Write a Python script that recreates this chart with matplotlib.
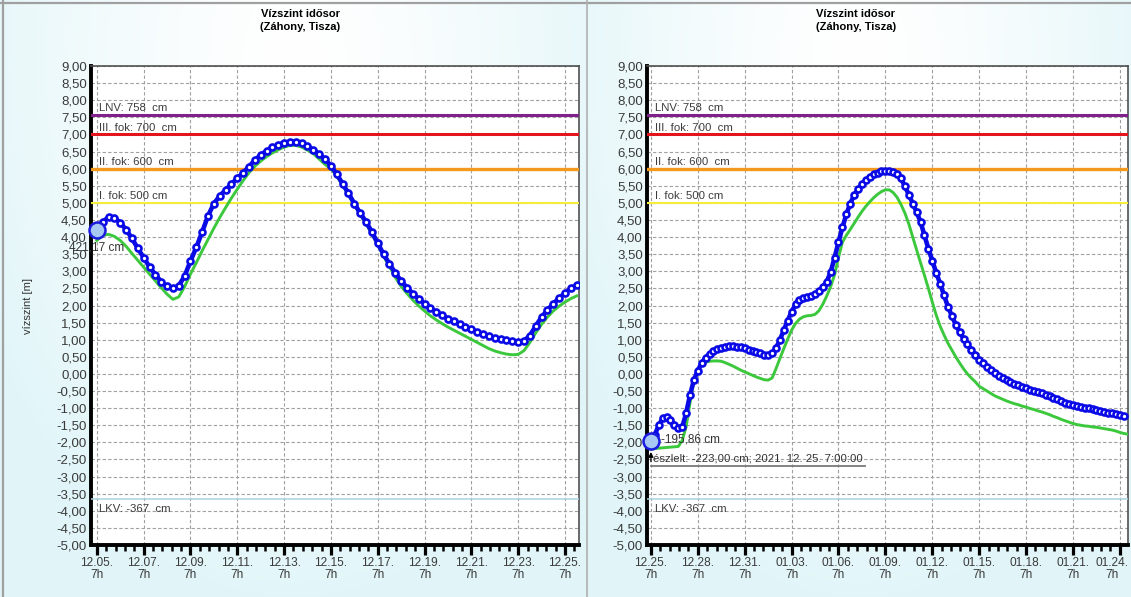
import numpy as np
import matplotlib.pyplot as plt
from matplotlib.ticker import MultipleLocator, FuncFormatter
from matplotlib.transforms import Bbox, ScaledTranslation
from matplotlib.lines import Line2D

plt.rcParams['font.family'] = ['Liberation Sans', 'DejaVu Sans']

# water level in metres, one value every 6 hours, first panel starts 12.05. 7h
forecast_left = [
    4.21, 4.45, 4.58, 4.57, 4.42, 4.22, 3.96, 3.67, 3.40, 3.13, 2.90, 2.70,
    2.56, 2.50, 2.58, 2.86, 3.30, 3.70, 4.15, 4.62, 4.98, 5.20, 5.38, 5.55,
    5.72, 5.88, 6.06, 6.25, 6.40, 6.52, 6.62, 6.70, 6.76, 6.79, 6.78, 6.74,
    6.65, 6.55, 6.42, 6.28, 6.08, 5.84, 5.56, 5.28, 4.98, 4.70, 4.45, 4.15,
    3.82, 3.50, 3.22, 2.95, 2.72, 2.52, 2.35, 2.20, 2.05, 1.92, 1.82, 1.72,
    1.62, 1.54, 1.45, 1.37, 1.30, 1.23, 1.16, 1.10, 1.06, 1.02, 0.98, 0.95,
    0.94, 0.97, 1.12, 1.40, 1.66, 1.87, 2.05, 2.22, 2.36, 2.50, 2.60,
]
measured_left = [
    3.90, 4.05, 4.08, 4.02, 3.90, 3.73, 3.52, 3.32, 3.12, 2.92, 2.72, 2.52,
    2.33, 2.18, 2.25, 2.55, 2.92, 3.25, 3.60, 3.93, 4.26, 4.57, 4.86, 5.14,
    5.40, 5.65, 5.88, 6.07, 6.22, 6.35, 6.46, 6.55, 6.63, 6.68, 6.68, 6.63,
    6.54, 6.44, 6.28, 6.12, 6.00, 5.78, 5.51, 5.23, 4.94, 4.65, 4.39, 4.09,
    3.77, 3.44, 3.14, 2.82, 2.56, 2.35, 2.16, 1.99, 1.84, 1.70, 1.58, 1.47,
    1.37, 1.28, 1.19, 1.10, 1.01, 0.92, 0.83, 0.74, 0.67, 0.62, 0.58, 0.56,
    0.57, 0.68, 0.92, 1.20, 1.45, 1.66, 1.84, 1.98, 2.10, 2.20, 2.28,
]

# second panel starts 12.25. 7h
forecast_right = [
    -1.95, -1.78, -1.50, -1.30, -1.25, -1.36, -1.48, -1.59, -1.56, -1.15, -0.62, -0.18,
    0.10, 0.32, 0.48, 0.59, 0.67, 0.73, 0.76, 0.79, 0.81, 0.81, 0.80, 0.78,
    0.75, 0.71, 0.67, 0.63, 0.60, 0.56, 0.55, 0.60, 0.76, 0.99, 1.28, 1.56,
    1.82, 2.03, 2.15, 2.21, 2.25, 2.28, 2.33, 2.42, 2.55, 2.70, 2.98, 3.40,
    3.85, 4.28, 4.66, 4.98, 5.22, 5.40, 5.54, 5.66, 5.76, 5.83, 5.88, 5.92,
    5.94, 5.94, 5.91, 5.84, 5.72, 5.48, 5.24, 4.98, 4.73, 4.44, 4.05, 3.66,
    3.31, 2.96, 2.64, 2.30, 1.97, 1.70, 1.44, 1.22, 1.03, 0.87, 0.70, 0.55,
    0.42, 0.31, 0.21, 0.11, 0.03, -0.05, -0.11, -0.17, -0.24, -0.29, -0.33, -0.38,
    -0.42, -0.47, -0.50, -0.54, -0.57, -0.61, -0.65, -0.70, -0.74, -0.79, -0.84, -0.87,
    -0.90, -0.93, -0.96, -0.99, -1.01, -1.03, -1.06, -1.08, -1.10, -1.13, -1.15, -1.18,
    -1.20, -1.23,
]
measured_right = [
    -2.20, -2.18, -2.17, -2.16, -2.15, -2.14, -2.13, -2.12, -1.95, -1.55, -0.85, -0.20,
    0.12, 0.28, 0.34, 0.37, 0.38, 0.38, 0.37, 0.33, 0.28, 0.23, 0.17, 0.11,
    0.06, 0.01, -0.04, -0.09, -0.13, -0.17, -0.18, -0.12, 0.15, 0.45, 0.74, 1.02,
    1.28, 1.47, 1.60, 1.67, 1.70, 1.71, 1.74, 1.85, 2.04, 2.28, 2.55, 2.90,
    3.40, 3.85, 4.05, 4.22, 4.40, 4.58, 4.75, 4.90, 5.03, 5.15, 5.25, 5.33,
    5.38, 5.38, 5.30, 5.16, 4.95, 4.70, 4.38, 4.00, 3.62, 3.25, 2.88, 2.50,
    2.10, 1.72, 1.40, 1.14, 0.90, 0.70, 0.50, 0.32, 0.15, 0.00, -0.12, -0.23,
    -0.36, -0.43, -0.50, -0.57, -0.64, -0.69, -0.74, -0.79, -0.83, -0.87, -0.90, -0.94,
    -0.97, -1.01, -1.04, -1.08, -1.11, -1.15, -1.19, -1.24, -1.28, -1.33, -1.37, -1.41,
    -1.45, -1.48, -1.50, -1.52, -1.53, -1.55, -1.56, -1.58, -1.60, -1.62, -1.64, -1.67,
    -1.71, -1.74, -1.76,
]

dates_left = ['12.05.', '12.07.', '12.09.', '12.11.', '12.13.', '12.15.',
              '12.17.', '12.19.', '12.21.', '12.23.', '12.25.']
dates_right = ['12.25.', '12.28.', '12.31.', '01.03.', '01.06.', '01.09.',
               '01.12.', '01.15.', '01.18.', '01.21.', '01.24.']

level_cm = [758, 700, 600, 500, -367]
level_names = ['LNV: 758  cm', 'III. fok: 700  cm', 'II. fok: 600  cm', 'I. fok: 500 cm', 'LKV: -367  cm']
level_colors = ['#80208c', '#e3141b', '#f39a1e', '#f4ee3a', '#a9d3e3']
level_widths = [2.2, 2.2, 2.4, 1.5, 1.1]

start_label_left = '421,17 cm'
start_label_right = '-195,86 cm'
observed_right = -223.00
observed_text = 'észlelt: -223,00 cm; 2021. 12. 25. 7:00:00'

W, H = 1131, 597
fig = plt.figure(figsize=(W / 100, H / 100), dpi=100)

# pale cyan panel backgrounds
bg = fig.add_axes([0, 0, 1, 1])
bg.set_zorder(-5)
yy, xx = np.mgrid[0:H, 0:W]
img = np.ones((H, W, 3))
cyan = (0.885, 0.963, 0.975)
for x0, x1 in [(0, 588), (588, W)]:
    m = (xx >= x0) & (xx < x1)
    cx = (x0 + x1) / 2
    r = np.sqrt(((xx - cx) / ((x1 - x0) * 0.6)) ** 2 + ((yy - 60) / 540) ** 2)
    t = np.clip(r, 0, 1) ** 1.4
    for c in range(3):
        img[..., c][m] = (1 - t[m]) + cyan[c] * t[m]
bg.imshow(img, extent=(0, W, H, 0), aspect='auto')
bg.set_xlim(0, W)
bg.set_ylim(H, 0)
bg.axis('off')
bg.axhline(3, color='#a0a0a0', lw=1.6)
bg.axvline(3, color='#a0a0a0', lw=1.6)
bg.axvline(587, color='#b0b0b0', lw=1.2)


def fmt_m(v, pos):
    return f'{v:.2f}'.replace('.', ',')


def panel(rect, forecast, measured, dates, step, xmax):
    ax = fig.add_axes(rect)
    ax.set_facecolor('white')
    days_f = np.arange(len(forecast)) * 0.25
    days_m = np.arange(len(measured)) * 0.25

    for lv, name, col, lw in zip(level_cm, level_names, level_colors, level_widths):
        ax.axhline(lv / 100, color=col, lw=lw, zorder=3)
        below = lv < 0
        ax.annotate(name, xy=(0, lv / 100), xycoords=('axes fraction', 'data'),
                    xytext=(5.5, -3 if below else 1), textcoords='offset points',
                    va='top' if below else 'bottom', ha='left', fontsize=8.2,
                    color='#3c3c3c', zorder=4)

    ax.plot(days_m, measured, color='#3cc83c', lw=2.1, zorder=5)
    ax.plot(days_f, forecast, color='#0a0ae6', lw=3.3, marker='o', ms=4.3,
            mfc='white', mec='#0a0ae6', mew=1.9, zorder=6)
    ax.plot(days_f[0], forecast[0], 'o', ms=11.5, mfc='#a6c8f2', mec='#1a1ae0',
            mew=1.8, zorder=8, clip_on=False)

    ax.set_xlim(-0.25, xmax)
    ax.set_ylim(-5, 9)
    ax.set_yticks(np.arange(-5, 9.01, 0.5))
    ax.yaxis.set_major_formatter(FuncFormatter(fmt_m))
    ax.set_xticks(np.arange(len(dates)) * step, labels=[d + '\n7h' for d in dates])
    ax.xaxis.set_minor_locator(MultipleLocator(step / 5))
    for lab in ax.get_xticklabels():
        lab.set_linespacing(0.95)

    ax.grid(True, which='major', color='#a0a0a0', linestyle=(0, (3, 2)), lw=0.8, zorder=1)
    ax.set_axisbelow(True)
    for s in ['left', 'bottom']:
        ax.spines[s].set_linewidth(2.8)
        ax.spines[s].set_color('black')
    for s in ['top', 'right']:
        ax.spines[s].set_linewidth(1.2)
        ax.spines[s].set_color('#505050')
    ax.tick_params(axis='x', which='major', length=7, width=2.3, color='black',
                   labelsize=8.6, labelcolor='#3a3a3a', pad=2)
    ax.tick_params(axis='x', which='minor', length=4.5, width=1.8, color='black')
    ax.tick_params(axis='y', length=0, pad=3, labelsize=9.5, labelcolor='#3a3a3a')
    return ax, days_f


axL, dL = panel([91 / W, 52 / H, 488 / W, 479 / H], forecast_left, measured_left,
                dates_left, 2, 20.6)
axR, dR = panel([647 / W, 52 / H, 481 / W, 479 / H], forecast_right, measured_right,
                dates_right, 3, 30.52)

# keep the last date label inside the picture
last = axR.get_xticklabels()[-1]
last.set_transform(last.get_transform() + ScaledTranslation(-6 / 72, 0, fig.dpi_scale_trans))

axL.annotate(start_label_left, xy=(dL[0], forecast_left[0]), xytext=(0, -13),
             textcoords='offset points', ha='center', va='center', fontsize=8.5,
             color='#333333', zorder=9, annotation_clip=False)
axR.annotate(start_label_right, xy=(dR[0], forecast_right[0]), xytext=(7, 1),
             textcoords='offset points', ha='left', va='center', fontsize=8.5,
             color='#333333', zorder=9)

obs = observed_right / 100
axR.annotate('', xy=(0, obs + 0.03), xytext=(0, -11), textcoords=('data', 'offset points'),
             arrowprops=dict(arrowstyle='-|>', color='black', lw=0.9, mutation_scale=7),
             zorder=9, annotation_clip=False)
obs_txt = axR.annotate(observed_text, xy=(0, obs), xytext=(1.5, -6),
                       textcoords='offset points', ha='left', va='center',
                       fontsize=8.2, color='#333333', zorder=9)

# titles and axis labels
for cx in [300, 856]:
    fig.text(cx / W, 1 - 14 / H, 'Vízszint idősor', ha='center', va='center',
             fontsize=8, fontweight='bold', family=['Liberation Sans Narrow', 'Liberation Sans'])
    fig.text(cx / W, 1 - 27 / H, '(Záhony, Tisza)', ha='center', va='center',
             fontsize=8, fontweight='bold', family=['Liberation Sans Narrow', 'Liberation Sans'])

fig.text(28 / W, 1 - 306 / H, 'vízszint [m]', rotation=90, ha='center', va='center',
         fontsize=8, color='#333333')
cut = fig.text(583 / W, 1 - 303 / H, 'vízszint [m]', rotation=90, ha='center',
               va='center', fontsize=8, color='#333333')
cut.set_clip_box(Bbox.from_extents(587, 0, 600, H))
cut.set_clip_on(True)

# underline of the observation tooltip
fig.canvas.draw()
bb = obs_txt.get_window_extent()
fig.add_artist(Line2D([bb.x0 - 2, bb.x1 + 2], [bb.y0 - 2, bb.y0 - 2],
                      transform=None, color='#7a7a7a', lw=1.3))

fig.savefig('out.png', dpi=100)
